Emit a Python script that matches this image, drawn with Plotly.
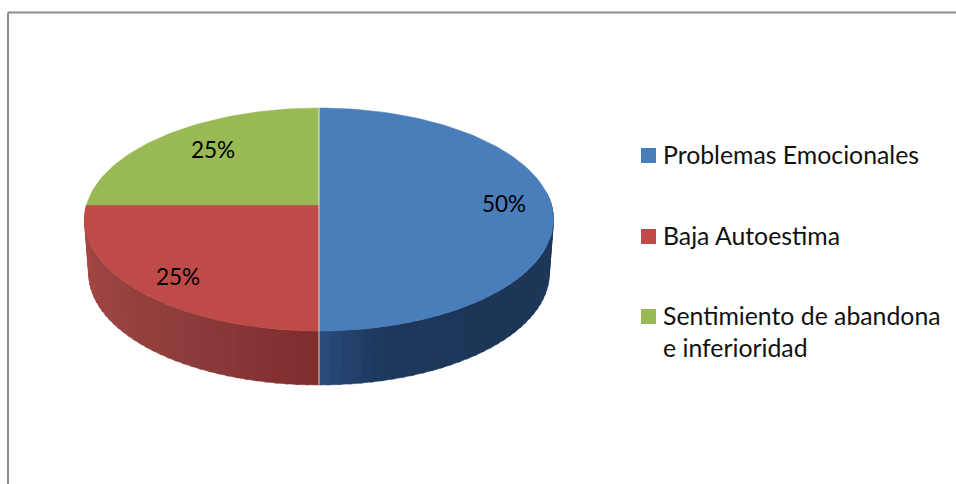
import math
import plotly.graph_objects as go

categories = ["Problemas Emocionales", "Baja Autoestima", "Sentimiento de abandona<br>e inferioridad"]
values = [50, 25, 25]
face_colors = ["#4a7ebb", "#be4b48", "#98b954"]
legend_y = [155.5, 236.5, 316.5]
label_radius = [0.80, 0.82, 0.72]
label_nudge = [(-1, -2), (5, 3), (5, -3)]

# Geometry of the tilted pie, in page pixels (axes map 1:1 to the page)
CX, CY, A, B, K = 319.0, 205.0, 232.5, 109.6, 0.13
WALL_DY, WALL_SCALE = 54.0, 0.982
FONT = "Lato"
FS = 24.8
FS_LABEL = 22.5


def project(theta, r=1.0):
    u, v = r * math.sin(theta), r * math.cos(theta)
    d = 1 + K * v
    return CX + A * u / d, CY - B * v / d


def wall_point(theta):
    x, y = project(theta)
    return CX + (x - CX) * WALL_SCALE, y + WALL_DY


def mix(stops, t):
    t = max(0.0, min(1.0, t)) * (len(stops) - 1)
    i = min(int(t), len(stops) - 2)
    f = t - i
    a, b = stops[i], stops[i + 1]
    return "rgb(%d,%d,%d)" % tuple(round(a[j] + (b[j] - a[j]) * f) for j in range(3))


wall_stops = [
    [(33, 62, 98), (31, 58, 94), (30, 56, 90), (29, 54, 88), (29, 54, 88), (29, 54, 88), (29, 55, 90), (30, 57, 94), (42, 76, 125)],  # blue, right to centre
    [(127, 45, 44), (140, 60, 58), (155, 68, 65), (168, 70, 68)],               # red, centre to left
]

fig = go.Figure()

total = sum(values)
edges = [0.0]
for v in values:
    edges.append(edges[-1] + v / total * 2 * math.pi)

# Side wall, drawn as thin strips that shade along the rim
vis_lo, vis_hi = math.radians(84), math.radians(276)
for s in range(2):
    lo, hi = max(edges[s], vis_lo), min(edges[s + 1], vis_hi)
    n = 40
    for i in range(n):
        t0 = lo + (hi - lo) * i / n
        t1 = min(lo + (hi - lo) * (i + 1.3) / n, hi)
        p0, p1, q1, q0 = project(t0), project(t1), wall_point(t1), wall_point(t0)
        col = mix(wall_stops[s], (i + 0.5) / n)
        fig.add_trace(go.Scatter(
            x=[p0[0], p1[0], q1[0], q0[0], p0[0]],
            y=[p0[1], p1[1], q1[1], q0[1], p0[1]],
            mode="lines", fill="toself", fillcolor=col,
            line=dict(color=col, width=0.5),
            hoverinfo="skip", showlegend=False))

# Top face
for s, v in enumerate(values):
    n = max(8, int(v * 2))
    pts = [project(edges[s] + (edges[s + 1] - edges[s]) * i / n) for i in range(n + 1)]
    xs = [CX] + [p[0] for p in pts] + [CX]
    ys = [CY] + [p[1] for p in pts] + [CY]
    fig.add_trace(go.Scatter(
        x=xs, y=ys, mode="lines", fill="toself", fillcolor=face_colors[s],
        line=dict(color=face_colors[s], width=0.5),
        name=categories[s].replace("<br>", " "), hoverinfo="name", showlegend=False))

# Light seam on the vertical boundary between the first slice and the others
t_top, t_bot = project(edges[0]), wall_point(edges[1])
fig.add_trace(go.Scatter(
    x=[t_top[0], t_bot[0]], y=[t_top[1], t_bot[1]], mode="lines",
    line=dict(color="rgba(255,255,255,0.75)", width=1),
    hoverinfo="skip", showlegend=False))

# Percentage labels
annotations = []
for s, v in enumerate(values):
    mid = (edges[s] + edges[s + 1]) / 2
    x, y = project(mid, label_radius[s])
    annotations.append(dict(
        x=x, y=y, xref="x", yref="y", text="%d%%" % round(v / total * 100),
        xshift=label_nudge[s][0], yshift=-label_nudge[s][1],
        showarrow=False, font=dict(family=FONT, size=FS_LABEL, color="#000000")))

# Legend
for s, name in enumerate(categories):
    two_line = "<br>" in name
    fig.add_trace(go.Scatter(
        x=[648.5], y=[legend_y[s]], mode="markers",
        marker=dict(symbol="square", size=15, color=face_colors[s]),
        hoverinfo="skip", showlegend=False))
    annotations.append(dict(
        x=661, y=legend_y[s], xref="x", yref="y", text=name, showarrow=False,
        xanchor="left", yanchor="top" if two_line else "middle",
        yshift=18 if two_line else 1, align="left",
        font=dict(family=FONT, size=FS, color="#111111")))

fig.update_layout(
    width=956, height=484, autosize=False,
    margin=dict(l=0, r=0, t=0, b=0),
    paper_bgcolor="#ffffff", plot_bgcolor="#ffffff",
    showlegend=False, annotations=annotations,
    xaxis=dict(range=[0, 956], visible=False, fixedrange=True),
    yaxis=dict(range=[484, 0], visible=False, fixedrange=True),
    shapes=[
        dict(type="line", xref="x", yref="y", x0=8, y0=12.5, x1=956, y1=12.5,
             line=dict(color="#8c8c8c", width=2)),
        dict(type="line", xref="x", yref="y", x0=8, y0=12.5, x1=8, y1=484,
             line=dict(color="#8c8c8c", width=2)),
    ],
)

fig.write_html("out.html", config={"displayModeBar": False},
               post_script="document.body.style.margin='0';document.body.style.overflow='hidden';")
